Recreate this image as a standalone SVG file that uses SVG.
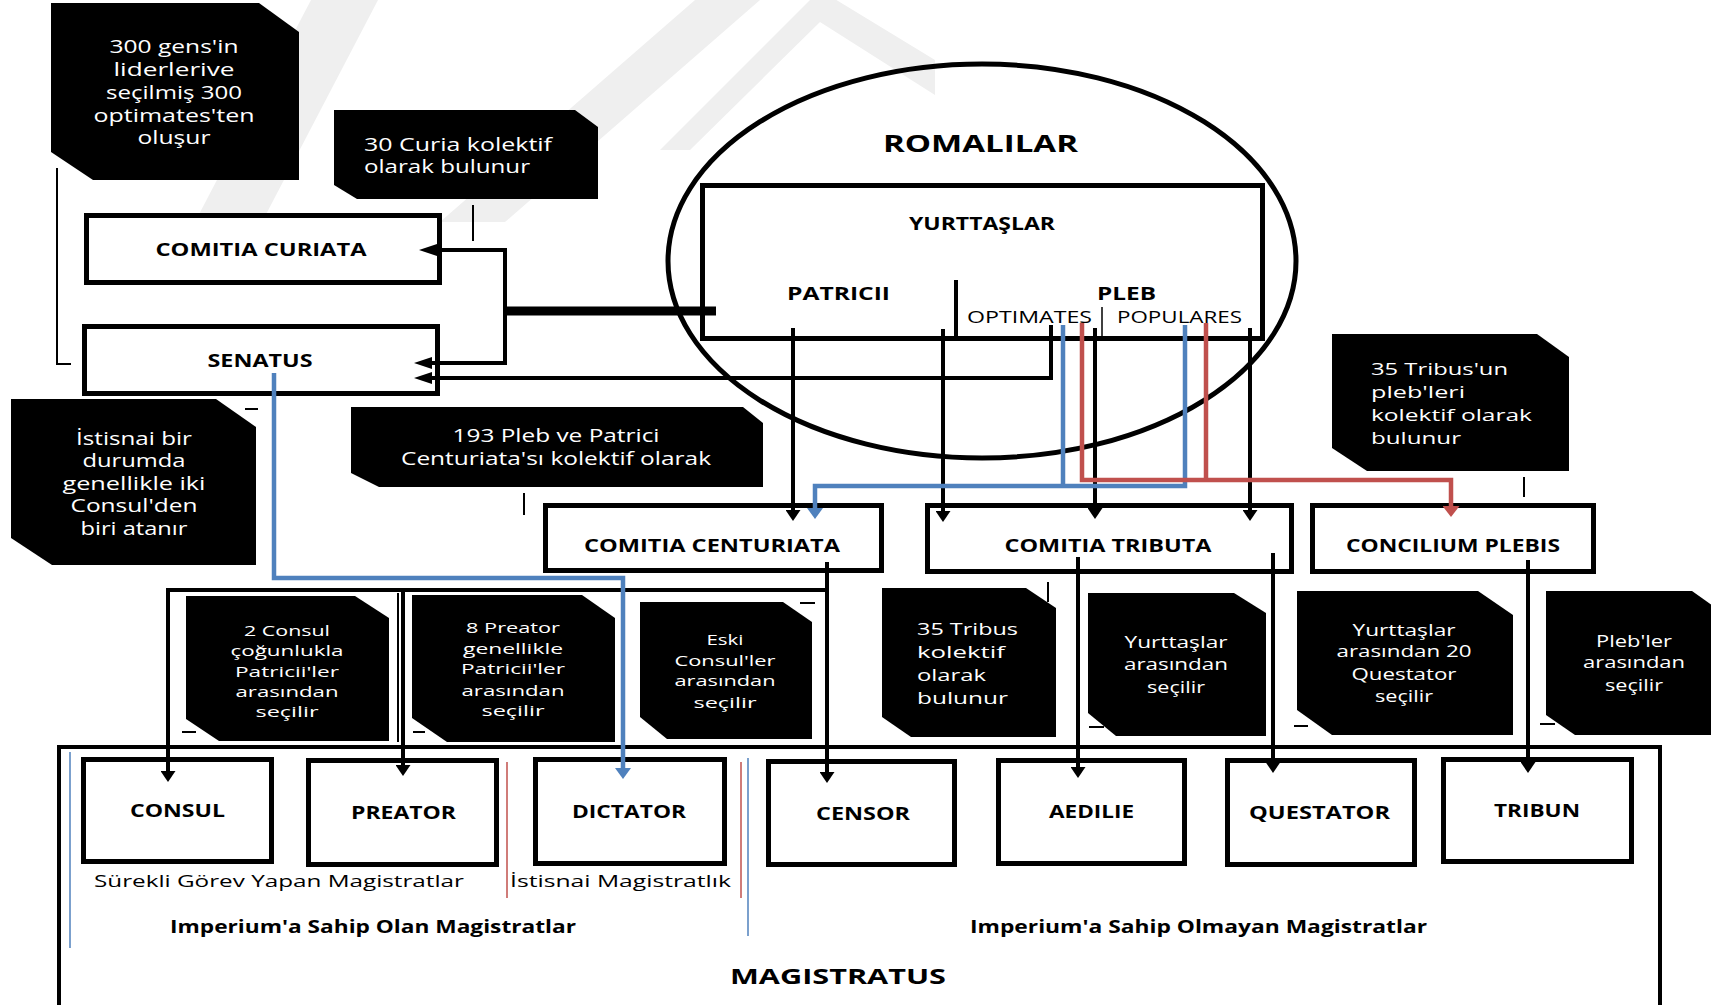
<svg xmlns="http://www.w3.org/2000/svg" width="1711" height="1005" viewBox="0 0 1711 1005">
  <style>
    .box { fill: #fff; stroke: #000; stroke-width: 5; }
    .frame { fill: none; stroke: #000; stroke-width: 4; }
    .callout { fill: #000; }
    .lbl { font-family: "Open Sans", "Liberation Sans", sans-serif; font-weight: 700; font-size: 17px; fill: #000; text-anchor: middle; }
    .lbl.st { text-anchor: start; }
    .plain { font-family: "Open Sans", "Liberation Sans", sans-serif; font-weight: 400; font-size: 16.5px; fill: #000; }
    .ct { font-family: "Open Sans", "Liberation Sans", sans-serif; font-size: 17px; fill: #fff; }
    .ct.c { text-anchor: middle; }
    .ct.l { font-size: 18px; }
    .ct.s { font-size: 15px; }
    .conn { fill: none; stroke: #000; stroke-width: 4; }
    .conn.heavy { stroke-width: 9; }
    .blue { stroke: #4f81bd; stroke-width: 4.5; }
    .red { stroke: #c0504d; stroke-width: 4.5; }
    .thin { fill: none; stroke: #000; stroke-width: 2; }
    .mark { fill: #efefef; }
  </style>
  <defs>
    <marker id="ah" markerUnits="userSpaceOnUse" viewBox="0 0 18 12" refX="1" refY="6" markerWidth="18" markerHeight="12" orient="auto">
      <path d="M0,0 L18,6 L0,12 Z" fill="#000"/>
    </marker>
    <marker id="av" markerUnits="userSpaceOnUse" viewBox="0 0 11 15" refX="1" refY="7.5" markerWidth="11" markerHeight="15" orient="auto">
      <path d="M0,0 L11,7.5 L0,15 Z" fill="#000"/>
    </marker>
    <marker id="avb" markerUnits="userSpaceOnUse" viewBox="0 0 11 16" refX="1" refY="8" markerWidth="11" markerHeight="16" orient="auto">
      <path d="M0,0 L11,8 L0,16 Z" fill="#4f81bd"/>
    </marker>
    <marker id="avr" markerUnits="userSpaceOnUse" viewBox="0 0 11 17" refX="1" refY="8.5" markerWidth="11" markerHeight="17" orient="auto">
      <path d="M0,0 L11,8.5 L0,17 Z" fill="#c0504d"/>
    </marker>
  </defs>

  <rect width="1711" height="1005" fill="#fff"/>

  <!-- faint background emblem -->
  <g id="emblem">
    <polygon class="mark" points="195,222 262,222 378,0 311,0"/>
    <polygon class="mark" points="440,222 505,222 760,0 695,0"/>
    <polygon class="mark" points="690,150 820,22 935,95 935,60 820,-10 660,150"/>
  </g>

  <!-- ROMALILAR / YURTTAŞLAR -->
  <g id="romalilar">
    <ellipse cx="982" cy="261" rx="314" ry="197" fill="none" stroke="#000" stroke-width="5"/>
    <text class="lbl" x="980.5" y="152" style="font-size:24px" textLength="195" lengthAdjust="spacingAndGlyphs">ROMALILAR</text>
  </g>
  <g id="yurttaslar">
    <rect x="702.5" y="185.5" width="560" height="153" fill="none" stroke="#000" stroke-width="5"/>
    <text class="lbl" x="982" y="230" textLength="146" lengthAdjust="spacingAndGlyphs">YURTTAŞLAR</text>
    <text class="lbl" x="838.5" y="300" textLength="103" lengthAdjust="spacingAndGlyphs">PATRICII</text>
    <text class="lbl" x="1126.5" y="300" textLength="59" lengthAdjust="spacingAndGlyphs">PLEB</text>
    <text class="plain" x="967" y="323" textLength="125" lengthAdjust="spacingAndGlyphs">OPTIMATES</text>
    <text class="plain" x="1117" y="323" textLength="125" lengthAdjust="spacingAndGlyphs">POPULARES</text>
    <line x1="956" y1="280" x2="956" y2="341" stroke="#000" stroke-width="4"/>
    <line x1="1102" y1="307" x2="1102" y2="338" stroke="#000" stroke-width="1.5"/>
  </g>

  <!-- assemblies -->
  <g id="comitia-curiata">
    <rect class="box" x="86.5" y="215.5" width="353" height="67"/>
    <text class="lbl" x="261" y="256" textLength="211" lengthAdjust="spacingAndGlyphs">COMITIA CURIATA</text>
  </g>
  <g id="senatus">
    <rect class="box" x="84.5" y="326.5" width="353" height="67"/>
    <text class="lbl" x="260" y="367" textLength="105" lengthAdjust="spacingAndGlyphs">SENATUS</text>
  </g>
  <g id="comitia-centuriata">
    <rect class="box" x="545.5" y="505.5" width="336" height="65"/>
    <text class="lbl" x="712" y="552" textLength="256" lengthAdjust="spacingAndGlyphs">COMITIA CENTURIATA</text>
  </g>
  <g id="comitia-tributa">
    <rect class="box" x="927.5" y="505.5" width="364" height="66"/>
    <text class="lbl" x="1108" y="552" textLength="207" lengthAdjust="spacingAndGlyphs">COMITIA TRIBUTA</text>
  </g>
  <g id="concilium-plebis">
    <rect class="box" x="1312.5" y="505.5" width="281" height="66"/>
    <text class="lbl" x="1453" y="552" textLength="214" lengthAdjust="spacingAndGlyphs">CONCILIUM PLEBIS</text>
  </g>

  <!-- magistracies -->
  <g id="magistratus">
    <rect class="frame" x="59" y="747" width="1601" height="280"/>
    <line x1="70" y1="752" x2="70" y2="948" stroke="#4f81bd" stroke-width="1.5"/>
    <line x1="507" y1="762" x2="507" y2="898" stroke="#c0504d" stroke-width="1.5"/>
    <line x1="741" y1="762" x2="741" y2="898" stroke="#c0504d" stroke-width="1.5"/>
    <line x1="748" y1="758" x2="748" y2="936" stroke="#4f81bd" stroke-width="1.5"/>
    <text class="plain" x="94" y="887" style="font-size:17px" textLength="370" lengthAdjust="spacingAndGlyphs">Sürekli Görev Yapan Magistratlar</text>
    <text class="plain" x="510" y="887" style="font-size:17px" textLength="221" lengthAdjust="spacingAndGlyphs">İstisnai Magistratlık</text>
    <text class="lbl st" x="170" y="933" style="font-size:18px" textLength="406" lengthAdjust="spacingAndGlyphs">Imperium'a Sahip Olan Magistratlar</text>
    <text class="lbl st" x="970" y="933" style="font-size:18px" textLength="457" lengthAdjust="spacingAndGlyphs">Imperium'a Sahip Olmayan Magistratlar</text>
    <text class="lbl st" x="730" y="984" style="font-size:21px" textLength="216" lengthAdjust="spacingAndGlyphs">MAGISTRATUS</text>
  </g>
  <g id="consul">
    <rect class="box" x="83.5" y="759.5" width="188" height="102"/>
    <text class="lbl" x="177.5" y="817" textLength="95" lengthAdjust="spacingAndGlyphs">CONSUL</text>
  </g>
  <g id="preator">
    <rect class="box" x="308.5" y="760.5" width="188" height="104"/>
    <text class="lbl" x="403.5" y="819" textLength="105" lengthAdjust="spacingAndGlyphs">PREATOR</text>
  </g>
  <g id="dictator">
    <rect class="box" x="535.5" y="759.5" width="189" height="104"/>
    <text class="lbl" x="629" y="818" textLength="114" lengthAdjust="spacingAndGlyphs">DICTATOR</text>
  </g>
  <g id="censor">
    <rect class="box" x="768.5" y="761.5" width="186" height="103"/>
    <text class="lbl" x="863" y="820" textLength="94" lengthAdjust="spacingAndGlyphs">CENSOR</text>
  </g>
  <g id="aedilie">
    <rect class="box" x="998.5" y="760.5" width="186" height="103"/>
    <text class="lbl" x="1091.5" y="818" textLength="85" lengthAdjust="spacingAndGlyphs">AEDILIE</text>
  </g>
  <g id="questator">
    <rect class="box" x="1227.5" y="760.5" width="187" height="104"/>
    <text class="lbl" x="1319.5" y="819" textLength="141" lengthAdjust="spacingAndGlyphs">QUESTATOR</text>
  </g>
  <g id="tribun">
    <rect class="box" x="1443.5" y="759.5" width="188" height="102"/>
    <text class="lbl" x="1537" y="817" textLength="86" lengthAdjust="spacingAndGlyphs">TRIBUN</text>
  </g>

  <!-- note callouts -->
  <g id="note-senatus">
    <polygon class="callout" points="51,3 259,3 299,32 299,180 93,180 51,152"/>
    <text class="ct c l" x="174" y="53" textLength="129" lengthAdjust="spacingAndGlyphs">300 gens'in</text>
    <text class="ct c l" x="174" y="76" textLength="121" lengthAdjust="spacingAndGlyphs">liderlerive</text>
    <text class="ct c l" x="174" y="99" textLength="136" lengthAdjust="spacingAndGlyphs">seçilmiş 300</text>
    <text class="ct c l" x="174" y="122" textLength="161" lengthAdjust="spacingAndGlyphs">optimates'ten</text>
    <text class="ct c l" x="174" y="144" textLength="73" lengthAdjust="spacingAndGlyphs">oluşur</text>
  </g>
  <g id="note-curiata">
    <polygon class="callout" points="334,110 575,110 598,127 598,199 357,199 334,185"/>
    <text class="ct l" x="364" y="151" textLength="188" lengthAdjust="spacingAndGlyphs">30 Curia kolektif</text>
    <text class="ct l" x="364" y="173" textLength="166" lengthAdjust="spacingAndGlyphs">olarak bulunur</text>
  </g>
  <g id="note-dictator">
    <polygon class="callout" points="11,399 216,399 256,427 256,565 52,565 11,538"/>
    <text class="ct c l" x="134" y="445" textLength="116" lengthAdjust="spacingAndGlyphs">İstisnai bir</text>
    <text class="ct c l" x="134" y="467" textLength="103" lengthAdjust="spacingAndGlyphs">durumda</text>
    <text class="ct c l" x="134" y="490" textLength="143" lengthAdjust="spacingAndGlyphs">genellikle iki</text>
    <text class="ct c l" x="134" y="512" textLength="127" lengthAdjust="spacingAndGlyphs">Consul'den</text>
    <text class="ct c l" x="134" y="535" textLength="107" lengthAdjust="spacingAndGlyphs">biri atanır</text>
  </g>
  <g id="note-centuriata">
    <polygon class="callout" points="351,407 743,407 763,423 763,487 379,487 351,473"/>
    <text class="ct c l" x="556" y="442" textLength="207" lengthAdjust="spacingAndGlyphs">193 Pleb ve Patrici</text>
    <text class="ct c l" x="556" y="465" textLength="310" lengthAdjust="spacingAndGlyphs">Centuriata'sı kolektif olarak</text>
  </g>
  <g id="note-concilium">
    <polygon class="callout" points="1332,334 1537,334 1569,357 1569,471 1367,471 1332,448"/>
    <text class="ct" x="1371" y="375" textLength="137" lengthAdjust="spacingAndGlyphs">35 Tribus'un</text>
    <text class="ct" x="1371" y="398" textLength="94" lengthAdjust="spacingAndGlyphs">pleb'leri</text>
    <text class="ct" x="1371" y="421" textLength="161" lengthAdjust="spacingAndGlyphs">kolektif olarak</text>
    <text class="ct" x="1371" y="444" textLength="90" lengthAdjust="spacingAndGlyphs">bulunur</text>
  </g>
  <g id="note-consul">
    <polygon class="callout" points="186,596 355,596 389,618 389,741 219,741 186,719"/>
    <text class="ct c s" x="287" y="636" textLength="86" lengthAdjust="spacingAndGlyphs">2 Consul</text>
    <text class="ct c s" x="287" y="656" textLength="113" lengthAdjust="spacingAndGlyphs">çoğunlukla</text>
    <text class="ct c s" x="287" y="677" textLength="104" lengthAdjust="spacingAndGlyphs">Patricii'ler</text>
    <text class="ct c s" x="287" y="697" textLength="103" lengthAdjust="spacingAndGlyphs">arasından</text>
    <text class="ct c s" x="287" y="717" textLength="63" lengthAdjust="spacingAndGlyphs">seçilir</text>
  </g>
  <g id="note-preator">
    <polygon class="callout" points="412,595 582,595 615,618 615,742 447,742 412,718"/>
    <text class="ct c s" x="513" y="633" textLength="94" lengthAdjust="spacingAndGlyphs">8 Preator</text>
    <text class="ct c s" x="513" y="654" textLength="100" lengthAdjust="spacingAndGlyphs">genellikle</text>
    <text class="ct c s" x="513" y="674" textLength="104" lengthAdjust="spacingAndGlyphs">Patricii'ler</text>
    <text class="ct c s" x="513" y="696" textLength="103" lengthAdjust="spacingAndGlyphs">arasından</text>
    <text class="ct c s" x="513" y="716" textLength="63" lengthAdjust="spacingAndGlyphs">seçilir</text>
  </g>
  <g id="note-censor">
    <polygon class="callout" points="640,602 783,602 812,622 812,739 667,739 640,717"/>
    <text class="ct c s" x="725" y="645" textLength="37" lengthAdjust="spacingAndGlyphs">Eski</text>
    <text class="ct c s" x="725" y="666" textLength="101" lengthAdjust="spacingAndGlyphs">Consul'ler</text>
    <text class="ct c s" x="725" y="686" textLength="101" lengthAdjust="spacingAndGlyphs">arasından</text>
    <text class="ct c s" x="725" y="708" textLength="63" lengthAdjust="spacingAndGlyphs">seçilir</text>
  </g>
  <g id="note-tributa">
    <polygon class="callout" points="882,588 1026,588 1056,608 1056,737 911,737 882,717"/>
    <text class="ct" x="917" y="635" textLength="101" lengthAdjust="spacingAndGlyphs">35 Tribus</text>
    <text class="ct" x="917" y="658" textLength="88" lengthAdjust="spacingAndGlyphs">kolektif</text>
    <text class="ct" x="917" y="681" textLength="69" lengthAdjust="spacingAndGlyphs">olarak</text>
    <text class="ct" x="917" y="704" textLength="91" lengthAdjust="spacingAndGlyphs">bulunur</text>
  </g>
  <g id="note-aedilie">
    <polygon class="callout" points="1088,593 1234,593 1266,613 1266,736 1116,736 1088,713"/>
    <text class="ct c" x="1176" y="648" textLength="103" lengthAdjust="spacingAndGlyphs">Yurttaşlar</text>
    <text class="ct c" x="1176" y="670" textLength="104" lengthAdjust="spacingAndGlyphs">arasından</text>
    <text class="ct c" x="1176" y="693" textLength="58" lengthAdjust="spacingAndGlyphs">seçilir</text>
  </g>
  <g id="note-questator">
    <polygon class="callout" points="1297,591 1478,591 1513,615 1513,735 1332,735 1297,710"/>
    <text class="ct c" x="1404" y="636" textLength="103" lengthAdjust="spacingAndGlyphs">Yurttaşlar</text>
    <text class="ct c" x="1404" y="657" textLength="135" lengthAdjust="spacingAndGlyphs">arasından 20</text>
    <text class="ct c" x="1404" y="680" textLength="105" lengthAdjust="spacingAndGlyphs">Questator</text>
    <text class="ct c" x="1404" y="702" textLength="58" lengthAdjust="spacingAndGlyphs">seçilir</text>
  </g>
  <g id="note-tribun">
    <polygon class="callout" points="1546,591 1692,591 1720,611 1720,735 1575,735 1546,715"/>
    <text class="ct c" x="1634" y="647" textLength="76" lengthAdjust="spacingAndGlyphs">Pleb'ler</text>
    <text class="ct c" x="1634" y="668" textLength="102" lengthAdjust="spacingAndGlyphs">arasından</text>
    <text class="ct c" x="1634" y="691" textLength="58" lengthAdjust="spacingAndGlyphs">seçilir</text>
  </g>

  <!-- leader lines and small marks -->
  <g id="marks">
    <path class="thin" d="M57,168 V364 H71"/>
    <path class="thin" d="M473,205 V241"/>
    <path class="thin" d="M524,493 V515"/>
    <path class="thin" d="M1048,582 V602"/>
    <path class="thin" d="M1524,477 V497"/>
    <path class="thin" d="M398,593 V742"/>
    <path class="thin" d="M245,409 H258 M800,603 H815 M182,732 H196 M413,732 H425 M1089,727 H1104 M1294,726 H1308 M1540,724 H1555"/>
  </g>

  <!-- connectors -->
  <g id="connectors">
    <path class="conn heavy" d="M505,311 H716"/>
    <path class="conn" d="M505,311 V250 H436" marker-end="url(#ah)"/>
    <path class="conn" d="M505,311 V363 H431" marker-end="url(#ah)"/>
    <path class="conn" d="M1051,325 V378 H431" marker-end="url(#ah)"/>
    <path class="conn" d="M793,328 V511" marker-end="url(#av)"/>
    <path class="conn" d="M943,329 V512" marker-end="url(#av)"/>
    <path class="conn" d="M1095,328 V509" marker-end="url(#av)"/>
    <path class="conn" d="M1250,328 V511" marker-end="url(#av)"/>
    <path class="conn" d="M827,562 V773" marker-end="url(#av)"/>
    <path class="conn" d="M827,590 H168 V772" marker-end="url(#av)"/>
    <path class="conn" d="M403,590 V766" marker-end="url(#av)"/>
    <path class="conn" d="M1078,557 V768" marker-end="url(#av)"/>
    <path class="conn" d="M1273,553 V763" marker-end="url(#av)"/>
    <path class="conn" d="M1528,560 V763" marker-end="url(#av)"/>
    <path class="conn blue" d="M1063,325 V486"/>
    <path class="conn blue" d="M1185,325 V486 H815 V509" marker-end="url(#avb)"/>
    <path class="conn blue" d="M274,373 V578 H623 V769" marker-end="url(#avb)"/>
    <path class="conn red" d="M1082,323 V480 H1451 V507" marker-end="url(#avr)"/>
    <path class="conn red" d="M1206,323 V480"/>
  </g>
</svg>
